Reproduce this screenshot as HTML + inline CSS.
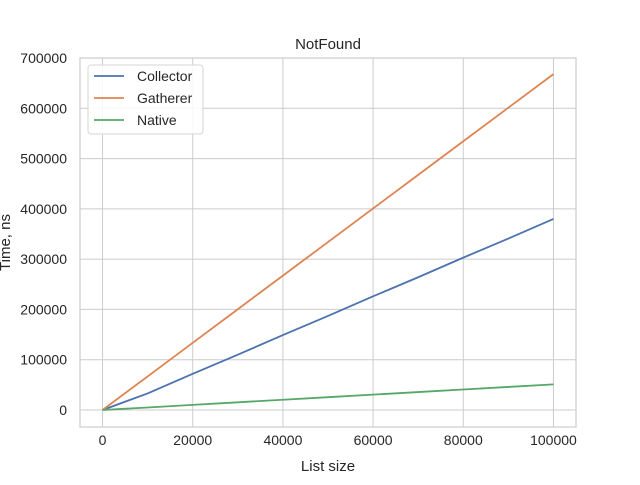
<!DOCTYPE html>
<html><head><meta charset="utf-8"><style>
body{margin:0;background:#fff;font-family:"Liberation Sans","DejaVu Sans",sans-serif}
</style></head><body>
<svg id="chart" width="640" height="480" xmlns="http://www.w3.org/2000/svg" font-family="Liberation Sans, Arial, sans-serif"></svg>
<script>
const sizes=[0,10000,20000,30000,40000,50000,60000,70000,80000,90000,100000];
const collector=[0,33000,72000,110000,149000,187000,226000,264000,303000,341000,380000];
const gatherer=[0,66800,133600,200400,267200,334000,400800,467600,534400,601200,668000];
const native=[0,5000,10200,15300,20400,25500,30600,35700,40800,45900,51000];
const xTicks=[0,20000,40000,60000,80000,100000];
const yTicks=[0,100000,200000,300000,400000,500000,600000,700000];
const L=80,R=576,T=58,B=427,xmin=-5000,xmax=105000,ymin=-33800,ymax=700000;
const X=v=>L+(v-xmin)/(xmax-xmin)*(R-L);
const Y=v=>B-(v-ymin)/(ymax-ymin)*(B-T);
const svg=document.getElementById('chart');
const NS='http://www.w3.org/2000/svg';
function mk(t,a,txt){const e=document.createElementNS(NS,t);for(const k in a)e.setAttribute(k,a[k]);if(txt!=null)e.textContent=txt;svg.appendChild(e);return e;}
xTicks.forEach(v=>{
const g=mk('line',{x1:X(v),x2:X(v),y1:T,y2:B,stroke:'#cccccc','stroke-width':1});


const t=mk('text',{x:X(v),y:B+18,'text-anchor':'middle','font-size':14,fill:'#262626'},v);


});
yTicks.forEach(v=>{
const g=mk('line',{x1:L,x2:R,y1:Y(v),y2:Y(v),stroke:'#cccccc','stroke-width':1});


const t=mk('text',{x:L-13,y:Y(v)+5,'text-anchor':'end','font-size':14,fill:'#262626'},v);


});
const fr=mk('rect',{x:L,y:T,width:R-L,height:B-T,fill:'none',stroke:'#cccccc','stroke-width':1.2});


const series=[['collector',collector,'#4c72b0'],['gatherer',gatherer,'#dd8452'],['native',native,'#55a868']];
series.forEach(([n,d,c])=>{
const p=mk('polyline',{points:sizes.map((s,i)=>X(s)+','+Y(d[i])).join(' '),fill:'none',stroke:c,'stroke-width':1.8});


});
const tt=mk('text',{x:(L+R)/2,y:T-9,'text-anchor':'middle','font-size':15,fill:'#262626'},'NotFound');


const xl=mk('text',{x:(L+R)/2,y:471,'text-anchor':'middle','font-size':15,fill:'#262626'},'List size');


const yl=mk('text',{x:0,y:0,'text-anchor':'middle','font-size':15,fill:'#262626',transform:'translate(10,'+((T+B)/2)+') rotate(-90)'},'Time, ns');


const lg=mk('rect',{x:88,y:65,width:115,height:69,rx:3,fill:'#fff','fill-opacity':0.85,stroke:'#d6d6d6'});


const names=['Collector','Gatherer','Native'];
series.forEach(([n,d,c],i)=>{
const y=76+i*22;
const l=mk('line',{x1:94,x2:124,y1:y,y2:y,stroke:c,'stroke-width':1.8});


const t=mk('text',{x:137,y:y+5,'font-size':14,fill:'#262626'},names[i]);


});
</script>
</body></html>
